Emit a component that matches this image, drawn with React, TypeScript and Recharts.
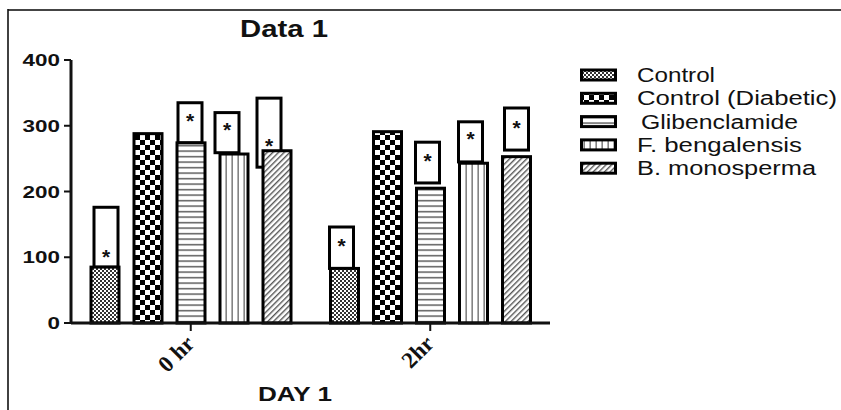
import React from "react";
import { BarChart, Bar, XAxis, YAxis, Legend } from "recharts";

const times = ["0 hr", "2hr"];
const seriesNames = [
  "Control",
  "Control (Diabetic)",
  "Glibenclamide",
  "F. bengalensis",
  "B. monosperma",
];

// bar heights per time point
const control = [85, 83];
const controlDiabetic = [288, 291];
const glibenclamide = [274, 205];
const fBengalensis = [257, 243];
const bMonosperma = [262, 253];

// open boxes drawn above the bars: [low, high], null = none
const controlBox = [[85, 176], [83, 146]];
const controlDiabeticBox = [null, null];
const glibenclamideBox = [[274, 335], [213, 275]];
const fBengalensisBox = [[259, 320], [245, 306]];
const bMonospermaBox = [[237, 342], [263, 327]];

// level of the asterisk inside each box
const controlStar = [106, 123];
const controlDiabeticStar = [null, null];
const glibenclamideStar = [314, 253];
const fBengalensisStar = [300, 286];
const bMonospermaStar = [276, 303];

const yTicks = [0, 100, 200, 300, 400];

const values = [control, controlDiabetic, glibenclamide, fBengalensis, bMonosperma];
const boxes: (number[] | null)[][] = [
  controlBox,
  controlDiabeticBox,
  glibenclamideBox,
  fBengalensisBox,
  bMonospermaBox,
];
const stars: (number | null)[][] = [
  controlStar,
  controlDiabeticStar,
  glibenclamideStar,
  fBengalensisStar,
  bMonospermaStar,
];

// the boxes in the original sit a little off their bars
const BOX_SHIFT = [
  [1, -3],
  [0, 0],
  [-1, -3],
  [-7, -3],
  [-8, 0],
];
const PATTERNS = ["p-control", "p-diabetic", "p-glib", "p-fbeng", "p-bmono"];
const SANS = "'Liberation Sans', Arial, sans-serif";
const SERIF = "'Liberation Serif', 'Times New Roman', serif";
const SX = 1.32; // source image is stretched sideways

const data = times.map((time, i) => {
  const row: Record<string, any> = { time };
  values.forEach((v, si) => {
    row[`s${si}`] = v[i];
  });
  return row;
});

const makeShape = (si: number) => (props: any) => {
  const { x, y, width, height, payload } = props;
  const i = times.indexOf(payload.time);
  const val = values[si][i];
  if (!val || !height) return <g />;
  const base = y + height;
  const k = height / val; // px per unit, taken from the bar itself
  const box = boxes[si][i];
  const star = stars[si][i];
  const cx = x + width / 2 + BOX_SHIFT[si][i];
  return (
    <g>
      {box && (
        <rect
          x={cx - 12}
          y={base - box[1] * k}
          width={24}
          height={(box[1] - box[0]) * k}
          fill="none"
          stroke="#000"
          strokeWidth={3}
        />
      )}
      {star != null && (
        <text
          x={cx}
          y={base - star * k + 11}
          textAnchor="middle"
          fontSize={21}
          fontWeight="bold"
          fontFamily={SANS}
          fill="#111"
        >
          *
        </text>
      )}
      <rect
        x={x}
        y={y}
        width={width}
        height={height}
        fill={`url(#${PATTERNS[si]})`}
        stroke="#000"
        strokeWidth={3}
      />
    </g>
  );
};

const YTick = ({ x, y, payload }: any) => (
  <g transform={`translate(${x},${y}) scale(${SX},1)`}>
    <text textAnchor="end" dy={6} fontSize={17} fontWeight="bold" fontFamily={SANS} fill="#111">
      {payload.value}
    </text>
  </g>
);

const XTick = ({ x, y, payload }: any) => (
  <g transform={`translate(${x + 5},${y + 12})`}>
    <text
      textAnchor="end"
      transform="rotate(-45)"
      fontSize={23}
      fontWeight="bold"
      fontFamily={SERIF}
      fill="#111"
    >
      {payload.value}
    </text>
  </g>
);

const legendWidths = [78, 200, 157, 165, 179];
const legendOffsets = [0, 0, 4, 0, 0];

const LegendContent = () => (
  <svg width={262} height={125}>
    {seriesNames.map((name, si) => {
      const cy = 15 + si * 23.3;
      return (
        <g key={name}>
          <rect
            x={7.5}
            y={cy - 5}
            width={34}
            height={10}
            fill={`url(#${PATTERNS[si]})`}
            stroke="#000"
            strokeWidth={3}
          />
          <text
            x={63 + legendOffsets[si]}
            y={cy + 7}
            fontSize={20}
            fontFamily={SANS}
            fill="#111"
            textLength={legendWidths[si]}
            lengthAdjust="spacingAndGlyphs"
          >
            {name}
          </text>
        </g>
      );
    })}
  </svg>
);

export default function App() {
  return (
    <div style={{ position: "absolute", left: 0, top: 0, width: 841, height: 410, background: "#fff" }}>
      <svg
        width={841}
        height={410}
        style={{ position: "absolute", left: 0, top: 0, pointerEvents: "none" }}
      >
        <defs>
          <pattern id="p-control" patternUnits="userSpaceOnUse" width={4} height={4}>
            <rect width={4} height={4} fill="#fff" />
            <rect width={2} height={2} fill="#333" />
            <rect x={2} y={2} width={2} height={2} fill="#333" />
          </pattern>
          <pattern id="p-diabetic" patternUnits="userSpaceOnUse" width={10} height={10}>
            <rect width={10} height={10} fill="#fff" />
            <rect width={5} height={5} fill="#000" />
            <rect x={5} y={5} width={5} height={5} fill="#000" />
          </pattern>
          <pattern id="p-glib" patternUnits="userSpaceOnUse" width={6} height={5.5}>
            <rect width={6} height={5.5} fill="#fff" />
            <rect y={2} width={6} height={1.3} fill="#444" />
          </pattern>
          <pattern id="p-fbeng" patternUnits="userSpaceOnUse" width={6} height={6}>
            <rect width={6} height={6} fill="#fff" />
            <rect x={3.5} width={1.3} height={6} fill="#666" />
          </pattern>
          <pattern
            id="p-bmono"
            patternUnits="userSpaceOnUse"
            width={4}
            height={4}
            patternTransform="rotate(45)"
          >
            <rect width={4} height={4} fill="#fff" />
            <rect width={1.4} height={4} fill="#555" />
          </pattern>
        </defs>
      </svg>
      <BarChart
        width={841}
        height={410}
        data={data}
        barSize={28}
        barGap={15}
        margin={{ top: 60, right: 291, bottom: 57, left: 11 }}
      >
        <XAxis
          dataKey="time"
          height={30}
          tick={<XTick />}
          tickSize={8}
          axisLine={{ stroke: "#111", strokeWidth: 3 }}
          tickLine={{ stroke: "#111", strokeWidth: 2 }}
        />
        <YAxis
          width={60}
          domain={[0, 400]}
          ticks={yTicks}
          tick={<YTick />}
          tickSize={7}
          tickMargin={4}
          axisLine={{ stroke: "#111", strokeWidth: 3 }}
          tickLine={{ stroke: "#111", strokeWidth: 2 }}
        />
        <Legend
          layout="vertical"
          align="center"
          verticalAlign="middle"
          content={<LegendContent />}
          wrapperStyle={{ left: 574, top: 60, width: 262, height: 125 }}
        />
        {seriesNames.map((name, si) => (
          <Bar
            key={name}
            dataKey={`s${si}`}
            name={name}
            shape={makeShape(si)}
            isAnimationActive={false}
          />
        ))}
      </BarChart>
      <svg
        width={841}
        height={410}
        style={{ position: "absolute", left: 0, top: 0, pointerEvents: "none" }}
      >
        <line x1={8} y1={10} x2={841} y2={10} stroke="#444" strokeWidth={2} />
        <line x1={8} y1={9} x2={8} y2={410} stroke="#111" strokeWidth={1.6} />
        <text
          x={284}
          y={37}
          textAnchor="middle"
          fontSize={23}
          fontWeight="bold"
          fontFamily={SANS}
          fill="#111"
          textLength={88}
          lengthAdjust="spacingAndGlyphs"
        >
          Data 1
        </text>
        <text
          x={295}
          y={401}
          textAnchor="middle"
          fontSize={20}
          fontWeight="bold"
          fontFamily={SANS}
          fill="#111"
          textLength={74}
          lengthAdjust="spacingAndGlyphs"
        >
          DAY 1
        </text>
      </svg>
    </div>
  );
}
